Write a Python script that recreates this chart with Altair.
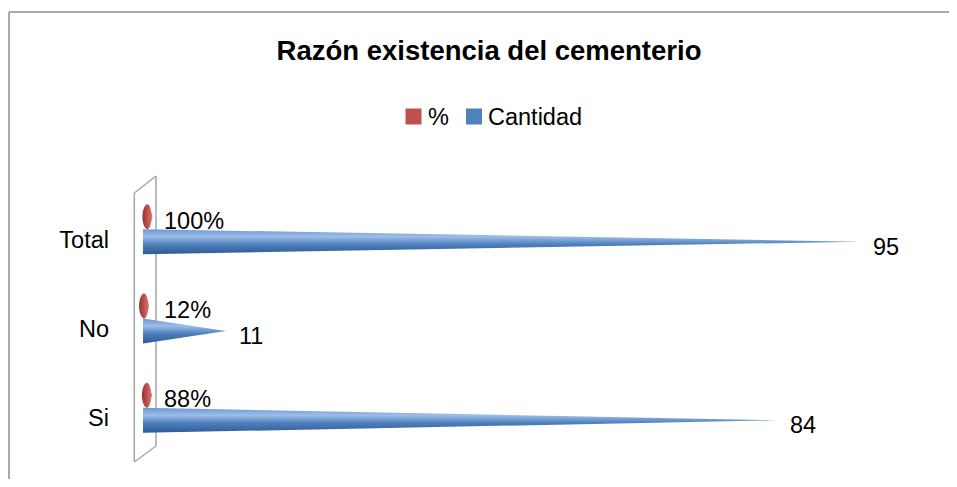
import altair as alt
import pandas as pd

# ---- data ----
categories = ["Si", "No", "Total"]
cantidad = [84, 11, 95]
porcentaje = [0.88, 0.12, 1.00]
porcentaje_labels = ["88%", "12%", "100%"]
series = ["%", "Cantidad"]
series_colors = ["#C0504D", "#4F81BD"]
title_text = "Razón existencia del cementerio"

# ---- styling / layout constants ----
FONT = "Liberation Sans"
VIEW_W = 717
VIEW_H = 268
ROW_PX = VIEW_H / len(categories)
CONE_HALF = 12.5 / ROW_PX  # half thickness of cone base, in row units

base = pd.DataFrame({
    "cat": categories,
    "pos": [i + 0.5 for i in range(len(categories))],
    "cant": cantidad,
    "pct": porcentaje,
    "pct_label": porcentaje_labels,
})

cone_rows = []
for c, p, v in zip(categories, base["pos"], cantidad):
    cone_rows.append({"cat": c, "x": 0, "top": p + CONE_HALF, "bot": p - CONE_HALF})
    cone_rows.append({"cat": c, "x": v, "top": p, "bot": p})
cones = pd.DataFrame(cone_rows)

xs = alt.Scale(domain=[0, max(cantidad)], nice=False, zero=True)
ys = alt.Scale(domain=[0, len(categories)], nice=False, zero=True)

blue_grad = {
    "gradient": "linear", "x1": 0, "y1": 0, "x2": 0, "y2": 1,
    "stops": [
        {"offset": 0, "color": "#6A98D4"},
        {"offset": 0.3, "color": "#9DBDE8"},
        {"offset": 0.6, "color": "#4F81BD"},
        {"offset": 1, "color": "#2E5A94"},
    ],
}
red_grad = {
    "gradient": "linear", "x1": 0, "y1": 0, "x2": 1, "y2": 0,
    "stops": [
        {"offset": 0, "color": "#8E3532"},
        {"offset": 0.5, "color": "#C0504D"},
        {"offset": 1, "color": "#D97875"},
    ],
}

dummy = alt.Data(values=[{}])

def rule(x, y, x2, y2, color, width):
    return alt.Chart(dummy).mark_rule(color=color, strokeWidth=width).encode(
        x=alt.value(x), y=alt.value(y), x2=alt.value(x2), y2=alt.value(y2)
    )

# chart frame (top and left edges) and 3D back wall
frame = rule(-134, -185, -134, 400, "#8C8C8C", 1.5) + rule(-134, -185, 900, -185, "#8C8C8C", 1.5)
wall = (
    rule(-8.7, -4, -8.7, 265, "#A6A6A6", 1.5)
    + rule(13, -21, 13, 249, "#A6A6A6", 1.5)
    + rule(-8.7, -4, 13, -21, "#A6A6A6", 1.5)
    + rule(-8.7, 265, 13, 249, "#A6A6A6", 1.5)
)

cone_layer = alt.Chart(cones).mark_area(strokeWidth=0).encode(
    x=alt.X("x:Q", scale=xs, axis=None),
    y=alt.Y("top:Q", scale=ys, axis=None, stack=None),
    y2="bot:Q",
    detail="cat:N",
    fill=alt.value(blue_grad),
)

shape = ("M-0.35,0 C-0.35,-0.55 -0.15,-1 0.05,-1 C0.25,-1 0.35,-0.5 0.45,0 "
         "C0.35,0.5 0.25,1 0.05,1 C-0.15,1 -0.35,0.55 -0.35,0 Z")
pct_layer = alt.Chart(base).transform_calculate(mid="datum.pct / 2").mark_point(
    filled=True, shape=shape, size=625, yOffset=-25, opacity=1, strokeWidth=0
).encode(
    x=alt.X("mid:Q", scale=xs, axis=None),
    y=alt.Y("pos:Q", scale=ys, axis=None),
    fill=alt.value(red_grad),
)

cat_labels = alt.Chart(base).mark_text(
    align="right", baseline="alphabetic", dy=6, font=FONT, fontSize=23.5, color="black"
).encode(
    x=alt.value(-34),
    y=alt.Y("pos:Q", scale=ys, axis=None),
    text="cat:N",
)

pct_labels = alt.Chart(base).mark_text(
    align="left", baseline="alphabetic", dx=21, dy=-13, font=FONT, fontSize=23.5, color="black"
).encode(
    x=alt.value(0),
    y=alt.Y("pos:Q", scale=ys, axis=None),
    text="pct_label:N",
)

val_labels = alt.Chart(base).mark_text(
    align="left", baseline="alphabetic", dx=13, dy=13, font=FONT, fontSize=23.5, color="black"
).encode(
    x=alt.X("cant:Q", scale=xs, axis=None),
    y=alt.Y("pos:Q", scale=ys, axis=None),
    text="cant:Q",
)

title = alt.Chart(dummy).mark_text(
    align="center", baseline="alphabetic", font=FONT, fontSize=27.5, fontWeight="bold", color="black"
).encode(x=alt.value(346), y=alt.value(-137), text=alt.value(title_text))

# legend (manual, placed above the plot like the original)
LEG_Y = -80.5
legend_slots = [(270.5, 285), (331, 345)]  # (square centre x, label left x)
legend_layers = []
for name, col, (sx, lx) in zip(series, series_colors, legend_slots):
    legend_layers.append(
        alt.Chart(dummy).mark_square(size=256, opacity=1, color=col).encode(
            x=alt.value(sx), y=alt.value(LEG_Y)
        )
    )
    legend_layers.append(
        alt.Chart(dummy).mark_text(
            align="left", baseline="middle", font=FONT, fontSize=23.5, color="black"
        ).encode(x=alt.value(lx), y=alt.value(LEG_Y + 1), text=alt.value(name))
    )

chart = alt.layer(
    frame, wall, cone_layer, pct_layer,
    cat_labels, pct_labels, val_labels, title, *legend_layers
).properties(
    width=VIEW_W,
    height=VIEW_H,
    autosize=alt.AutoSizeParams(type="none"),
    padding={"left": 135, "top": 189, "right": 89, "bottom": 14},
    background="white",
).configure_view(stroke=None)

chart.save("out.html", embed_options={"renderer": "svg", "actions": False})
